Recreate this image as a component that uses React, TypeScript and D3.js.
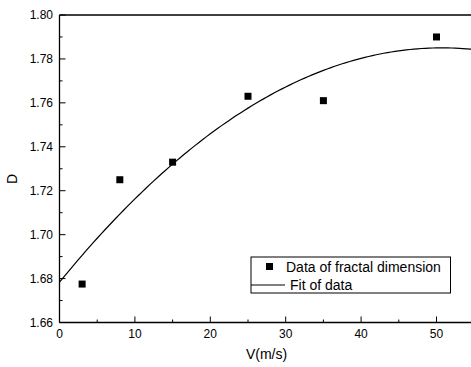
import React, { useEffect, useRef } from 'react';
import * as d3 from 'd3';

// measured points
const speeds = [3, 8, 15, 25, 35, 50];
const dims = [1.6775, 1.725, 1.733, 1.763, 1.761, 1.79];
const xTicks = [0, 10, 20, 30, 40, 50];
const yTicks = [1.66, 1.68, 1.7, 1.72, 1.74, 1.76, 1.78, 1.8];
const legendLabels = ['Data of fractal dimension', 'Fit of data'];

// least squares quadratic fit y = a + b x + c x^2
function quadFit(xs: number[], ys: number[]) {
  const s = (f: (x: number, y: number) => number) => d3.sum(xs, (x, i) => f(x, ys[i]));
  const n = xs.length;
  const m = [
    [n, s(x => x), s(x => x * x), s((x, y) => y)],
    [s(x => x), s(x => x * x), s(x => x ** 3), s((x, y) => x * y)],
    [s(x => x * x), s(x => x ** 3), s(x => x ** 4), s((x, y) => x * x * y)],
  ];
  for (let i = 0; i < 3; i++) {
    for (let k = i + 1; k < 3; k++) {
      const f = m[k][i] / m[i][i];
      for (let j = i; j < 4; j++) m[k][j] -= f * m[i][j];
    }
  }
  const c = [0, 0, 0];
  for (let i = 2; i >= 0; i--) {
    let v = m[i][3];
    for (let j = i + 1; j < 3; j++) v -= m[i][j] * c[j];
    c[i] = v / m[i][i];
  }
  return c;
}

const App = () => {
  const svgRef = useRef<SVGSVGElement>(null);

  useEffect(() => {
    const width = 471;
    const height = 367;
    const left = 59.5;
    const top = 15;
    const bottom = 322.5;

    const svg = d3.select(svgRef.current);
    svg.selectAll('*').remove();
    svg.attr('width', width).attr('height', height);

    const x = d3.scaleLinear().domain([0, 10]).range([left, left + 75.4]);
    const y = d3.scaleLinear().domain([1.66, 1.8]).range([bottom, top]);
    const xMax = 60;
    const font = 'Liberation Sans, Arial, sans-serif';

    // frame
    svg.append('line').attr('x1', left).attr('x2', x(xMax)).attr('y1', top).attr('y2', top)
      .attr('stroke', 'black').attr('stroke-width', 1.3);

    // x axis
    const gx = svg.append('g').attr('transform', `translate(0,${bottom})`);
    gx.append('line').attr('x1', left).attr('x2', x(xMax)).attr('stroke', 'black').attr('stroke-width', 1.3);
    d3.range(0, xMax + 1, 5).forEach(v => {
      gx.append('line').attr('x1', x(v)).attr('x2', x(v)).attr('y1', 0)
        .attr('y2', v % 10 === 0 ? -6 : -3).attr('stroke', 'black');
    });
    gx.selectAll('text.tick').data(xTicks).enter().append('text')
      .attr('x', d => x(d)).attr('y', 15.5).attr('text-anchor', 'middle')
      .attr('font-family', font).attr('font-size', 12).text(d => d);
    svg.append('text').attr('x', 266.5).attr('y', 359).attr('text-anchor', 'middle')
      .attr('font-family', font).attr('font-size', 14).text('V(m/s)');

    // y axis
    const gy = svg.append('g').attr('transform', `translate(${left},0)`);
    gy.append('line').attr('y1', top).attr('y2', bottom).attr('stroke', 'black').attr('stroke-width', 1.3);
    d3.range(0, 15).forEach(i => {
      const v = 1.66 + i * 0.01;
      gy.append('line').attr('x1', 0).attr('x2', i % 2 === 0 ? 6 : 3)
        .attr('y1', y(v)).attr('y2', y(v)).attr('stroke', 'black');
    });
    gy.selectAll('text.tick').data(yTicks).enter().append('text')
      .attr('x', -6.5).attr('y', d => y(d)).attr('dy', '0.35em').attr('text-anchor', 'end')
      .attr('font-family', font).attr('font-size', 12).text(d => d.toFixed(2));
    svg.append('text').attr('transform', `translate(17,${179}) rotate(-90)`)
      .attr('text-anchor', 'middle').attr('font-family', font).attr('font-size', 14).text('D');

    // fit curve
    const [a, b, c] = quadFit(speeds, dims);
    const fitX = d3.range(0, xMax + 0.5, 0.5);
    const line = d3.line<number>().x(d => x(d)).y(d => y(a + b * d + c * d * d));
    svg.append('path').datum(fitX).attr('d', line).attr('fill', 'none')
      .attr('stroke', 'black').attr('stroke-width', 1.2);

    // data points
    const sz = 7;
    svg.selectAll('rect.pt').data(speeds).enter().append('rect')
      .attr('x', (d) => x(d) - sz / 2).attr('y', (d, i) => y(dims[i]) - sz / 2)
      .attr('width', sz).attr('height', sz).attr('fill', 'black');

    // legend
    const lg = svg.append('g');
    lg.append('rect').attr('x', 251).attr('y', 257).attr('width', 199.5).attr('height', 36)
      .attr('fill', 'white').attr('stroke', 'black');
    lg.append('rect').attr('x', 266).attr('y', 263).attr('width', 7).attr('height', 7).attr('fill', 'black');
    lg.append('text').attr('x', 286).attr('y', 272).attr('font-family', font).attr('font-size', 14)
      .text(legendLabels[0]);
    lg.append('line').attr('x1', 251).attr('x2', 285).attr('y1', 285).attr('y2', 285)
      .attr('stroke', 'black').attr('stroke-width', 1.2);
    lg.append('text').attr('x', 290).attr('y', 290).attr('font-family', font).attr('font-size', 14)
      .text(legendLabels[1]);
  }, []);

  return (
    <svg ref={svgRef} style={{ position: 'absolute', left: 0, top: 0 }}></svg>
  );
};

export default App;
